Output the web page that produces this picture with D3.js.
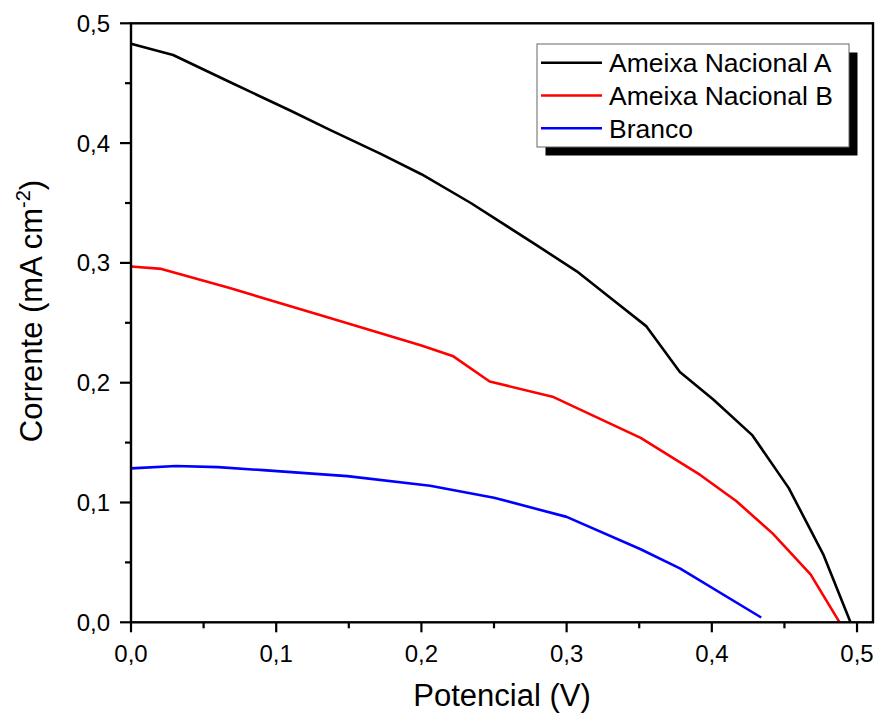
<!DOCTYPE html>
<html>
<head>
<meta charset="utf-8">
<script src="https://cdn.jsdelivr.net/npm/d3@7"></script>
<style>
  html, body { margin: 0; padding: 0; background: #fff; }
  svg { display: block; }
  text { font-family: "Liberation Sans", Arial, sans-serif; fill: #000; }
</style>
</head>
<body>
<svg id="chart" width="879" height="718"></svg>
<script>
// Current–voltage curves (V, mA cm^-2)
const seriesNames = ["Ameixa Nacional A", "Ameixa Nacional B", "Branco"];
const seriesColors = ["#000000", "#ff0000", "#0000ff"];

const ameixaA = [
  [0.000, 0.483], [0.029, 0.4735], [0.068, 0.451], [0.110, 0.427], [0.137, 0.411],
  [0.172, 0.391], [0.200, 0.374], [0.234, 0.350], [0.279, 0.315], [0.307, 0.293],
  [0.332, 0.269], [0.355, 0.247], [0.378, 0.209], [0.401, 0.186], [0.428, 0.156],
  [0.453, 0.112], [0.477, 0.056], [0.4955, 0.000]
];
const ameixaB = [
  [0.000, 0.297], [0.021, 0.295], [0.068, 0.279], [0.137, 0.254], [0.200, 0.231],
  [0.222, 0.222], [0.247, 0.201], [0.291, 0.188], [0.351, 0.154], [0.392, 0.123],
  [0.417, 0.101], [0.442, 0.074], [0.468, 0.040], [0.488, 0.000]
];
const branco = [
  [0.000, 0.1285], [0.031, 0.1305], [0.060, 0.1295], [0.091, 0.127], [0.149, 0.122],
  [0.206, 0.114], [0.250, 0.104], [0.300, 0.088], [0.351, 0.061], [0.378, 0.045],
  [0.434, 0.004]
];
const seriesData = [ameixaA, ameixaB, branco];

const xTicks = [0, 0.1, 0.2, 0.3, 0.4, 0.5];
const yTicks = [0, 0.1, 0.2, 0.3, 0.4, 0.5];
const xDomain = [0, 0.511];
const yDomain = [0, 0.5];

const svg = d3.select("#chart");
const plot = { left: 131, right: 873, top: 23.3, bottom: 622.3 };

const x = d3.scaleLinear().domain(xDomain).range([plot.left, plot.right]);
const y = d3.scaleLinear().domain(yDomain).range([plot.bottom, plot.top]);

const fmt = d => d3.format(".1f")(d).replace(".", ",");

// minor ticks halfway between majors
const xMinor = d3.range(0.05, 0.51, 0.1);
const yMinor = d3.range(0.05, 0.5, 0.1);

// bottom axis
const xAxis = svg.append("g").attr("transform", `translate(0,${plot.bottom})`);
xAxis.selectAll("line.major").data(xTicks).join("line")
  .attr("x1", d => x(d)).attr("x2", d => x(d)).attr("y1", 0).attr("y2", 10)
  .attr("stroke", "#000").attr("stroke-width", 2.2);
xAxis.selectAll("line.minor").data(xMinor).join("line")
  .attr("x1", d => x(d)).attr("x2", d => x(d)).attr("y1", 0).attr("y2", 6)
  .attr("stroke", "#000").attr("stroke-width", 2.2);
xAxis.selectAll("text").data(xTicks).join("text")
  .attr("x", d => x(d)).attr("y", 40)
  .attr("text-anchor", "middle").attr("font-size", 24)
  .text(fmt);

// left axis
const yAxis = svg.append("g").attr("transform", `translate(${plot.left},0)`);
yAxis.selectAll("line.major").data(yTicks).join("line")
  .attr("x1", -11).attr("x2", 0).attr("y1", d => y(d)).attr("y2", d => y(d))
  .attr("stroke", "#000").attr("stroke-width", 2.2);
yAxis.selectAll("line.minor").data(yMinor).join("line")
  .attr("x1", -6).attr("x2", 0).attr("y1", d => y(d)).attr("y2", d => y(d))
  .attr("stroke", "#000").attr("stroke-width", 2.2);
yAxis.selectAll("text").data(yTicks).join("text")
  .attr("x", -21).attr("y", d => y(d)).attr("dy", "0.35em")
  .attr("text-anchor", "end").attr("font-size", 24)
  .text(fmt);

// data curves
const line = d3.line().x(d => x(d[0])).y(d => y(d[1]));
svg.append("g").selectAll("path").data(seriesData).join("path")
  .attr("d", line)
  .attr("fill", "none")
  .attr("stroke", (d, i) => seriesColors[i])
  .attr("stroke-width", 2.6)
  .attr("stroke-linejoin", "round");

// frame
svg.append("rect")
  .attr("x", plot.left).attr("y", plot.top)
  .attr("width", plot.right - plot.left).attr("height", plot.bottom - plot.top)
  .attr("fill", "none").attr("stroke", "#000").attr("stroke-width", 2.4);

// axis titles
svg.append("text")
  .attr("x", (plot.left + plot.right) / 2).attr("y", 706)
  .attr("text-anchor", "middle").attr("font-size", 31)
  .text("Potencial (V)");

const yTitle = svg.append("text")
  .attr("transform", "translate(42,311) rotate(-90)")
  .attr("text-anchor", "middle").attr("font-size", 31);
yTitle.append("tspan").text("Corrente (mA cm");
yTitle.append("tspan").attr("font-size", 20).attr("dy", -12).text("-2");
yTitle.append("tspan").attr("dy", 12).text(")");

// legend with drop shadow
const leg = { x: 537, y: 44, w: 312, h: 103, shadow: 8.5 };
svg.append("rect")
  .attr("x", leg.x + leg.shadow).attr("y", leg.y + leg.shadow)
  .attr("width", leg.w).attr("height", leg.h).attr("fill", "#000");
svg.append("rect")
  .attr("x", leg.x).attr("y", leg.y).attr("width", leg.w).attr("height", leg.h)
  .attr("fill", "#fff").attr("stroke", "#666").attr("stroke-width", 1);

const rows = svg.append("g").selectAll("g").data(seriesNames).join("g")
  .attr("transform", (d, i) => `translate(0,${62.7 + i * 32.8})`);
rows.append("line")
  .attr("x1", 541).attr("x2", 602).attr("y1", 0).attr("y2", 0)
  .attr("stroke", (d, i) => seriesColors[i]).attr("stroke-width", 2.6);
rows.append("text")
  .attr("x", 609).attr("y", 0).attr("dy", "0.36em")
  .attr("font-size", 26.5)
  .text(d => d);
</script>
</body>
</html>
